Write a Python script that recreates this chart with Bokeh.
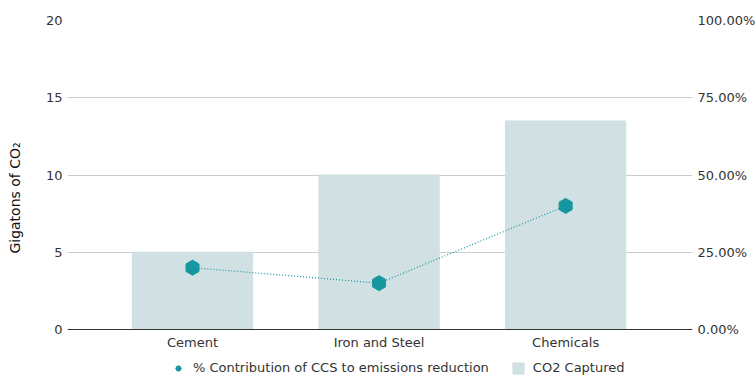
from bokeh.plotting import figure
from bokeh.models import (Range1d, LinearAxis, FixedTicker, PrintfTickFormatter,
                          Legend, LegendItem, ColumnDataSource, Span)
from bokeh.core.properties import value
from bokeh.embed import file_html
from bokeh.resources import INLINE
import numpy as np

categories = ["Cement", "Iron and Steel", "Chemicals"]
co2_captured = [5, 10, 13.5]
ccs_pct = [20, 15, 40]
left_ticks = [0, 5, 10, 15, 20]
right_ticks = [0, 25, 50, 75, 100]

FONT = "DejaVu Sans"
TXT = "#333333"
TEAL = "#14979f"
BAR = "#d1e0e3"

xs = list(range(len(categories)))
src = ColumnDataSource(dict(x=xs, cat=categories, co2=co2_captured, pct=ccs_pct,
                            base=[0] * len(categories)))

# frame extends below zero to make room for category labels and legend
FRAME_H = 355
PX_PER_UNIT = 309 / 20.0
y_lo = 20 - FRAME_H / PX_PER_UNIT

p = figure(frame_width=625, frame_height=FRAME_H, output_backend="svg", toolbar_location=None,
           x_range=Range1d(-0.67, 2.68), y_range=Range1d(y_lo, 20),
           min_border_left=67, min_border_right=60, min_border_top=20,
           min_border_bottom=0)
p.outline_line_color = None
p.extra_y_ranges = {"pct": Range1d(y_lo * 5, 100)}

bars = p.vbar(x="x", top="co2", width=0.645, color=BAR, source=src)
p.line(x="x", y="pct", source=src, y_range_name="pct", line_color=TEAL,
       line_width=1.2, line_dash="1 2")
pts = p.scatter(x="x", y="pct", source=src, y_range_name="pct", marker="hex",
                size=15, angle=np.pi / 6, fill_color=TEAL, line_color=TEAL)

# baseline axis line and category labels
p.add_layout(Span(location=0, dimension="width", line_color="#333333", line_width=1))
p.text(x="x", y="base", text="cat", source=src, y_offset=13,
       text_align="center", text_baseline="middle",
       text_font=value(FONT), text_font_size="13px", text_color=TXT)

p.xaxis.visible = False

# left axis
p.yaxis.ticker = FixedTicker(ticks=left_ticks)
p.yaxis.axis_label = "Gigatons of CO\u2082"
p.yaxis.axis_label_text_font = FONT
p.yaxis.axis_label_text_font_style = "normal"
p.yaxis.axis_label_text_font_size = "14px"
p.yaxis.axis_label_text_color = "#111111"
p.yaxis.axis_label_standoff = 20

right = LinearAxis(y_range_name="pct", ticker=FixedTicker(ticks=right_ticks),
                   formatter=PrintfTickFormatter(format="%.2f%%"))
p.add_layout(right, "right")

for ax in [p.yaxis[0], right]:
    ax.major_label_text_font = FONT
    ax.major_label_text_font_size = "13px"
    ax.major_label_text_color = TXT
    ax.major_tick_line_color = None
    ax.minor_tick_line_color = None
    ax.major_tick_out = 0
    ax.major_tick_in = 0
    ax.major_label_standoff = 5
    ax.axis_line_color = None

p.xgrid.grid_line_color = None
p.ygrid.ticker = FixedTicker(ticks=left_ticks)
p.ygrid.grid_line_color = "#cccccc"

legend = Legend(items=[
    LegendItem(label="% Contribution of CCS to emissions reduction", renderers=[pts]),
    LegendItem(label="CO2 Captured", renderers=[bars]),
], orientation="horizontal", label_text_font=FONT, label_text_font_size="13px",
    label_text_color=TXT, border_line_color=None, background_fill_alpha=0,
    padding=0, margin=0, spacing=22, glyph_width=14, glyph_height=14,
    label_standoff=8, label_height=14, location=(104, 0))
p.add_layout(legend, "center")

open("out.html", "w").write(file_html(p, INLINE))
